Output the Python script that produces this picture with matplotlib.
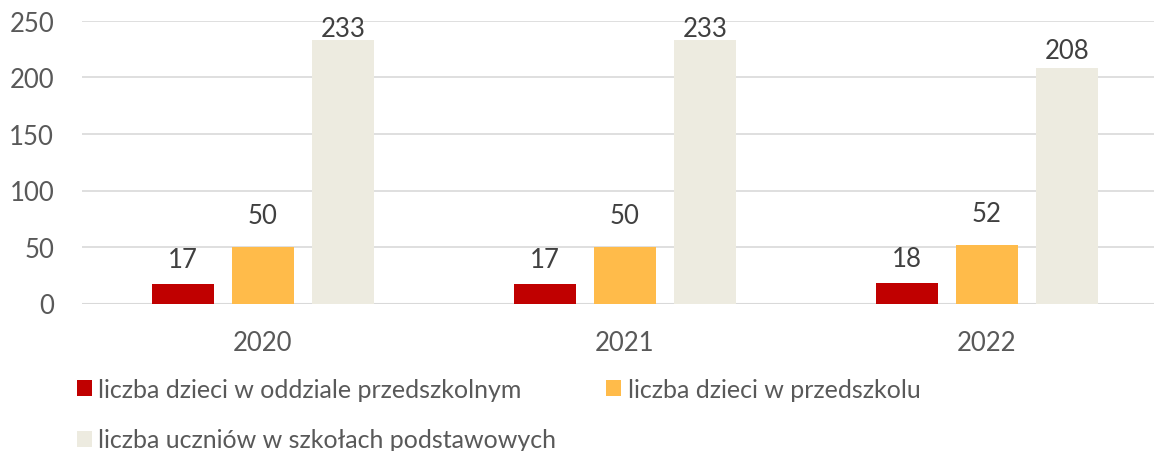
import matplotlib.pyplot as plt
from matplotlib.patches import Patch

# dane
lata = ['2020', '2021', '2022']
serie = ['liczba dzieci w oddziale przedszkolnym',
         'liczba dzieci w przedszkolu',
         'liczba uczniów w szkołach podstawowych']
oddzial = [17, 17, 18]
przedszkole = [50, 50, 52]
szkoly = [233, 233, 208]
kolory = ['#C00000', '#FFBB4A', '#EDEBE0']

plt.rcParams['font.family'] = ['Lato', 'DejaVu Sans']

W, H = 1154, 452
fig = plt.figure(figsize=(W / 100, H / 100), dpi=100)
ax = fig.add_axes([82 / W, (H - 304.5) / H, 1 - 82 / W, (304.5 - 22) / H])

x = list(range(len(lata)))
przesun = [-0.221, 0, 0.221]
szer = 0.174
odstep = [12, 19, 5]  # odstep etykiety od slupka w px

for i, wart in enumerate([oddzial, przedszkole, szkoly]):
    xs = [xi + przesun[i] for xi in x]
    ax.bar(xs, wart, width=szer, color=kolory[i], zorder=2)
    for xi, v in zip(xs, wart):
        off = odstep[i] if v < 220 else -1
        ax.annotate(str(v), (xi, v), xytext=(0, off * 0.72), textcoords='offset points',
                    ha='center', va='bottom', fontsize=18.5, color='#404040', zorder=3)

ax.set_xlim(-0.5, (W - 263) / 362)
ax.set_ylim(0, 250)
ax.set_yticks([0, 50, 100, 150, 200, 250])
ax.set_xticks(x)
ax.set_xticklabels(lata)
ax.tick_params(axis='both', length=0, labelsize=18.5, labelcolor='#595959')
ax.tick_params(axis='y', pad=20)
ax.tick_params(axis='x', pad=19)
ax.yaxis.grid(True, color='#D9D9D9', linewidth=1.2, zorder=0)
ax.set_axisbelow(True)
for s in ax.spines.values():
    s.set_visible(False)
ax.axhline(0, color='#D9D9D9', linewidth=1.5, zorder=1)

# legenda: kolejnosc tak, by trzecia pozycja byla w drugim wierszu
uchwyty = [Patch(facecolor=kolory[i]) for i in range(3)]
kol = [0, 2, 1]
fig.legend([uchwyty[k] for k in kol], [serie[k] for k in kol],
           loc='upper left', bbox_to_anchor=(77 / W, 1 - 379 / H),
           ncol=2, frameon=False, fontsize=18, labelcolor='#595959',
           handlelength=0.6, handleheight=0.6, handletextpad=0.25,
           labelspacing=1.1, columnspacing=2.0, borderpad=0, borderaxespad=0)

fig.savefig('out.png', dpi=100)
